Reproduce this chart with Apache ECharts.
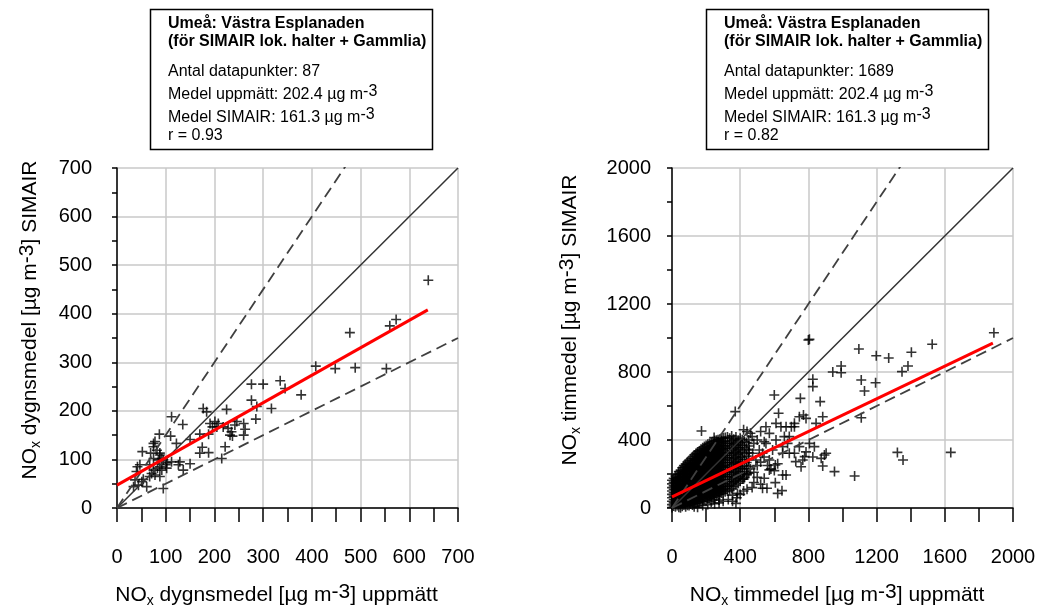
<!DOCTYPE html>
<html>
<head>
<meta charset="utf-8">
<script src="https://cdn.jsdelivr.net/npm/echarts@6/dist/echarts.min.js"></script>
<style>
html, body { margin: 0; padding: 0; background: #fff; }
#chart { width: 1039px; height: 605px; }
</style>
</head>
<body>
<div id="chart"></div>
<script>
// dygnsmedel (left) : uppmätt vs SIMAIR
var dayPoints = [
	[639,469],[573,388],[560,375],[478,361],[408,292],[448,287],[489,289],[553,287],
	[276,255],[300,255],[335,262],[345,246],[378,233],[276,222],[287,209],[317,205],
	[177,205],[184,198],[225,203],[112,188],[135,172],[201,178],[196,167],[218,167],
	[246,178],[260,174],[285,183],[235,157],[232,150],[237,148],[263,162],[260,150],
	[170,152],[188,152],[110,148],[87,152],[78,137],[75,133],[122,133],[150,141],
	[175,125],[188,114],[222,126],[215,102],[52,116],[69,113],[82,119],[88,109],
	[92,102],[102,93],[112,95],[126,89],[129,95],[150,91],[136,78],[42,85],
	[47,89],[67,89],[71,71],[78,68],[88,65],[75,78],[83,82],[92,78],[95,40],[88,85],
	[37,58],[51,54],[44,47],[34,44],[61,44],[54,59],[95,99],[100,89],[75,102],[85,99],
	[205,167],[208,174],[228,164],[242,171],[170,113],[75,126],[88,113],[40,75],[67,65],[191,174],[102,82]
];
var dayFit = [[0,47],[638,408]];
var dayOneToOne = [[0,0],[700,700]];
var dayUpper = [[0,0],[700,1050]];
var dayLower = [[0,0],[700,350]];

// timmedel (right)
var hourOutliers = [
	[1888,1031],[1526,963],[1404,916],[1384,835],[1349,802],[1271,882],[1198,896],[1096,935],
	[1110,753],[1129,688],[1194,737],[992,835],[992,796],[943,800],[800,988],[806,992],
	[826,757],[826,714],[869,626],[753,645],[600,665],[371,567],[173,453],[247,414],
	[1110,531],[1322,327],[1355,282],[1635,327],[1071,188],[953,214],[894,312],[904,322],
	[884,247],[875,292],[835,361],[884,537],[771,547],[786,527],[845,498],[625,557],
	[610,498],[645,102],[620,86],[606,149],[557,116],[649,194],[757,243],[778,302],
	[718,322],[649,322],[726,273],[688,420],[718,478],[669,478],[541,175],[571,224],
	[606,253],[669,194],[531,116]
];
var hourSparse = [
	[551,478],[571,439],[541,390],[512,341],[531,322],[551,380],[639,478],[659,420],
	[649,361],[678,380],[610,400],[590,341],[571,282],[492,282],[473,322],[453,341],
	[718,498],[747,537],[700,478],[688,322],[747,361],[767,282],[786,330],[806,380],
	[826,300],[470,420],[500,400],[520,450],[460,440],[480,380],[440,450],[420,460],
	[500,250],[520,270],[540,300],[460,230],[480,210],[440,200],[420,170],[560,250],
	[580,230],[600,220],[620,260],[480,150],[500,180],[520,140],[470,120],[440,110],
	[400,80],[420,100],[380,60],[355,40],[330,50],[300,40],[276,30],[250,25],
	[230,35],[375,27],[355,76],[384,86],[276,47],[247,47],[210,20],[180,15],[150,5],[130,8]
];
// dense cloud near origin: first value is x, the rest are y values in that column
var hourCloud = [
	[0, 3,20,40,60,80,100,120,142,163],
	[10, 12,30,50,70,90,110,130,152,175],
	[20, 8,28,48,68,88,108,128,148,170,188],
	[30, 14,34,54,74,94,114,134,156,178,198],
	[40, 4,22,42,62,82,102,122,142,162,182,200,214],
	[50, 2,20,40,60,80,100,120,140,160,180,200,222],
	[60, 10,30,50,70,90,110,130,150,170,190,210,236],
	[70, 18,38,58,78,98,118,138,158,178,198,218,238,250],
	[80, 8,26,46,66,86,106,126,146,166,186,206,226,244,258],
	[90, 16,36,56,76,96,116,136,156,176,196,216,236,256,270],
	[100, 14,34,54,74,94,114,134,154,174,194,214,234,254,280],
	[110, 24,44,64,84,104,124,144,164,184,204,224,244,264,290],
	[120, 18,38,58,78,98,118,138,158,178,198,218,238,258,278,300],
	[130, 28,48,68,88,108,128,148,168,188,208,228,248,268,290,312],
	[140, 26,46,66,86,106,126,146,166,186,206,226,246,266,286,304,320],
	[150, 36,56,76,96,116,136,156,176,196,216,236,256,276,296,318,330],
	[160, 30,50,70,90,110,130,150,170,190,210,230,250,270,290,310,336],
	[170, 40,60,80,100,120,140,160,180,200,220,240,260,280,300,322,345],
	[180, 40,60,80,100,120,140,160,180,200,220,240,260,280,300,320,338,354],
	[190, 50,70,90,110,130,150,170,190,210,230,250,270,290,310,330,348,362],
	[200, 46,66,86,106,126,146,166,186,206,226,246,266,286,306,326,346,368],
	[210, 56,76,96,116,136,156,176,196,216,236,256,276,296,316,336,358,375],
	[220, 54,74,94,114,134,154,174,194,214,234,254,274,294,314,334,354,380],
	[230, 64,84,104,124,144,164,184,204,224,244,264,284,304,324,344,366,386],
	[240, 62,82,102,122,142,162,182,202,222,242,262,282,302,322,342,362,390],
	[250, 72,92,112,132,152,172,192,212,232,252,272,292,312,332,352,376,395],
	[260, 70,90,110,130,150,170,190,210,230,250,270,290,310,330,350,372,398],
	[270, 80,100,120,140,160,180,200,220,240,260,280,300,320,340,362,385,402],
	[280, 78,98,118,138,158,178,198,218,238,258,278,298,318,338,358,380,405],
	[290, 88,108,128,148,168,188,208,228,248,268,288,308,328,348,370,395,410],
	[300, 86,106,126,146,166,186,206,226,246,266,286,306,326,346,366,388,412],
	[312, 96,116,140,168,196,224,252,280,308,336,364,392,415],
	[325, 100,128,156,184,212,240,268,296,324,352,380,418],
	[338, 108,130,156,184,212,240,268,296,324,352,380,410],
	[350, 115,142,170,198,226,254,282,310,338,366,395,424],
	[362, 126,152,180,208,236,264,292,320,348,376,405],
	[375, 135,162,190,218,246,274,302,330,358,386,418],
	[388, 146,174,202,230,258,286,314,342,370,398],
	[400, 158,186,214,242,270,298,326,354,382,410],
	[412, 170,200,232,265,300,335,370,402],
	[425, 180,215,250,285,320,355,390],
	[438, 195,230,268,305,345,385],
	[450, 205,245,285,325,365,400]
];
var hourFit = [[0,65],[1882,970]];
var hourOneToOne = [[0,0],[2000,2000]];
var hourUpper = [[0,0],[2000,3000]];
var hourLower = [[0,0],[2000,1000]];

var boxTitle = ['Umeå: Västra Esplanaden', '(för SIMAIR lok. halter + Gammlia)'];
var dayStats = ['Antal datapunkter: 87', 'Medel uppmätt: 202.4 µg m{sup|-3}', 'Medel SIMAIR: 161.3 µg m{sup|-3}', 'r = 0.93'];
var hourStats = ['Antal datapunkter: 1689', 'Medel uppmätt: 202.4 µg m{sup|-3}', 'Medel SIMAIR: 161.3 µg m{sup|-3}', 'r = 0.82'];

var FONT = '"Liberation Sans", Arial, Helvetica, sans-serif';
var plus = 'path://M5,0L5,10M0,5L10,5';

var hourPoints = hourOutliers.concat(hourSparse);
hourCloud.forEach(function (col) {
	col.slice(1).forEach(function (y) { hourPoints.push([col[0], y]); });
});

function nameStyle(padding) {
	return {
		fontFamily: FONT, fontSize: 21, color: '#000', lineHeight: 26, padding: padding,
		rich: {
			sup: { fontFamily: FONT, fontSize: 21, lineHeight: 14, verticalAlign: 'top', color: '#000' },
			sub: { fontFamily: FONT, fontSize: 14, lineHeight: 12, verticalAlign: 'bottom', color: '#000' }
		}
	};
}

function makeAxis(grid, max, step, isX, name, gap, labelMargin, padding) {
	var tickLen = isX ? 14 : 5;
	return {
		gridIndex: grid, type: 'value', min: 0, max: max, interval: step,
		name: name, nameLocation: 'middle', nameGap: gap, nameRotate: isX ? 0 : 90,
		nameTextStyle: nameStyle(padding),
		axisLine: { show: true, onZero: false, lineStyle: { color: '#000', width: 1.5 } },
		axisTick: { show: true, length: tickLen, lineStyle: { color: '#000', width: 1.5 } },
		minorTick: { show: true, splitNumber: 2, length: tickLen, lineStyle: { color: '#000', width: 1.5 } },
		axisLabel: {
			margin: labelMargin, fontSize: 20, color: '#000', fontFamily: FONT,
			showMinLabel: true, showMaxLabel: true,
			formatter: function (v) { return String(v); }
		},
		splitLine: { show: true, lineStyle: { color: '#c8c8c8', width: 1.5 } },
		minorSplitLine: { show: false }
	};
}

function refLine(idx, data, dashed) {
	return {
		type: 'line', xAxisIndex: idx, yAxisIndex: idx, data: data, symbol: 'none', z: 4,
		lineStyle: { color: dashed ? '#404040' : '#333', width: dashed ? 1.8 : 1.5, type: dashed ? [11, 6] : 'solid' },
		silent: true
	};
}

function scatter(idx, data) {
	return {
		type: 'scatter', xAxisIndex: idx, yAxisIndex: idx, data: data, symbol: plus, symbolSize: 10,
		itemStyle: { color: 'rgba(0,0,0,0)', borderColor: '#000', borderWidth: 1.6 }, z: 2, silent: true
	};
}

function fitLine(idx, data) {
	return {
		type: 'line', xAxisIndex: idx, yAxisIndex: idx, data: data, symbol: 'none', z: 5,
		lineStyle: { color: '#ff0000', width: 3 }, silent: true
	};
}

function box(left, stats) {
	var els = [{
		type: 'rect', shape: { x: left + 0.5, y: 9.5, width: 282, height: 140 },
		style: { fill: '#fff', stroke: '#000', lineWidth: 1.5 }
	}];
	var ys = [24, 42];
	boxTitle.forEach(function (t, i) {
		els.push({ type: 'text', x: left + 18, y: ys[i],
			style: { text: t, fontFamily: FONT, fontSize: 16, fontWeight: 'bold', fill: '#000', verticalAlign: 'middle' } });
	});
	var sy = [72, 95, 117.5, 135.5];
	stats.forEach(function (t, i) {
		els.push({ type: 'text', x: left + 18, y: sy[i],
			style: { text: t, fontFamily: FONT, fontSize: 16, lineHeight: 22, fill: '#000', verticalAlign: 'middle',
				rich: { sup: { fontFamily: FONT, fontSize: 16, lineHeight: 12, verticalAlign: 'top', fill: '#000' } } } });
	});
	return els;
}

var chart = echarts.init(document.getElementById('chart'), null, { renderer: 'canvas' });
chart.setOption({
	animation: false,
	backgroundColor: '#fff',
	grid: [
		{ left: 117, top: 168, width: 341, height: 340, containLabel: false, outerBoundsMode: 'none' },
		{ left: 672, top: 168, width: 341, height: 340, containLabel: false, outerBoundsMode: 'none' }
	],
	xAxis: [
		makeAxis(0, 700, 100, true, 'NO{sub|x} dygnsmedel [µg m{sup|-3}] uppmätt', 74, 39, [0, 22, 0, 0]),
		makeAxis(1, 2000, 400, true, 'NO{sub|x} timmedel [µg m{sup|-3}] uppmätt', 74, 39, [0, 11, 0, 0])
	],
	yAxis: [
		makeAxis(0, 700, 100, false, 'NO{sub|x} dygnsmedel [µg m{sup|-3}] SIMAIR', 74, 25, [0, 0, 0, 36]),
		makeAxis(1, 2000, 400, false, 'NO{sub|x} timmedel [µg m{sup|-3}] SIMAIR', 89, 21, [0, 0, 0, 36])
	],
	series: [
		scatter(0, dayPoints),
		refLine(0, dayOneToOne, false),
		refLine(0, dayUpper, true),
		refLine(0, dayLower, true),
		fitLine(0, dayFit),
		scatter(1, hourPoints),
		refLine(1, hourOneToOne, false),
		refLine(1, hourUpper, true),
		refLine(1, hourLower, true),
		fitLine(1, hourFit)
	],
	graphic: box(150, dayStats).concat(box(706, hourStats))
});
</script>
</body>
</html>
